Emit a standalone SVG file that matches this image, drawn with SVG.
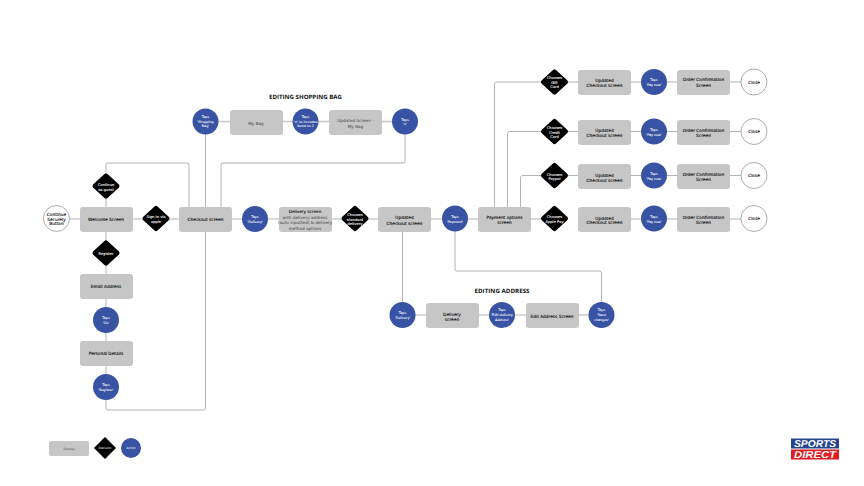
<svg xmlns="http://www.w3.org/2000/svg" width="864" height="486" viewBox="0 0 864 486">
<style>
text{font-family:"DejaVu Sans","Noto Sans",sans-serif;text-anchor:middle;font-weight:400;text-rendering:geometricPrecision}
.r{fill:#c6c6c6}
.s text{fill:#111;font-size:4.3px;stroke:#111;stroke-width:.12}
.g text{fill:#444;font-size:4.2px}
.d path{fill:#000}
.d text{fill:#fff;font-size:3.7px;stroke:#fff;stroke-width:.08}
.a circle{fill:#3953a4}
.a text{fill:#fff;font-size:3.3px;stroke:#fff;stroke-width:.06}
.c circle{fill:#fff;stroke:#8a8a8a;stroke-width:.7}
.c text{fill:#111;font-size:4.3px;stroke:#111;stroke-width:.12}
.l{fill:none;stroke:#b3b3b3;stroke-width:1}
.t{fill:#111;font-size:5.9px;font-weight:700;font-family:"Open Sans","Noto Sans",sans-serif}
</style>
<defs>
<rect id="box" width="53" height="25" rx="3"/>
<path id="dia" d="M-1.500-12 L-13 -1.500 Q-14 0 -13 1.500 L-1.500 12 Q0 13.500 1.500 12 L13 1.500 Q14 0 13 -1.500 L1.500 -12 Q0 -13.500 -1.500 -12Z"/>
</defs>
<rect width="864" height="486" fill="#fff"/>
<g id="connectors" class="l">
<path d="M56 219H555M578 219H754"/>
<path d="M106 172V165Q106 163 108 163H187Q189 163 189 165V207"/>
<path d="M106 186V387"/>
<path d="M205.500 121.500V408Q205.500 410 203.500 410H108Q106 410 106 408V387"/>
<path d="M221 207V165Q221 163 223 163H403Q405 163 405 161V121.500" stroke="#c8c8c8" stroke-width="1.300"/>
<path d="M205.500 121.500H405" stroke="#c8c8c8" stroke-width="1.300"/>
<path d="M402.500 232V315M402.500 315H601.500"/>
<path d="M455 219V269Q455 271 457 271H599.500Q601.500 271 601.500 273V315"/>
<path d="M494.500 207V84Q494.500 82 496.500 82H754"/>
<path d="M507.500 207V133.500Q507.500 131.500 509.500 131.500H754"/>
<path d="M520.500 207V177.500Q520.500 175.500 522.500 175.500H754"/>
</g>
<g id="start" class="c"><circle cx="56.500" cy="218.500" r="13"/><text x="56.500" y="216">Continue</text><text x="56.500" y="220.500">Securely</text><text x="56.500" y="225">Button</text></g>
<g id="welcome" class="s"><use href="#box" class="r" x="80" y="207"/><text x="106" y="221">Welcome Screen</text></g>
<g id="guest" class="d"><use href="#dia" x="106" y="186"/><text x="106" y="186">Continue</text><text x="106" y="190.500">as guest</text></g>
<g id="apple-signin" class="d"><use href="#dia" x="156" y="218.500"/><text x="156" y="218">Sign in via</text><text x="156" y="222.500">apple</text></g>
<g id="register" class="d"><use href="#dia" x="106" y="253"/><text x="106" y="254.500">Register</text></g>
<g id="email" class="s"><use href="#box" class="r" x="80" y="274"/><text x="106" y="288">Email Address</text></g>
<g id="tap-go" class="a"><circle cx="106" cy="320" r="13"/><text x="106" y="319">Taps</text><text x="106" y="324">'Go'</text></g>
<g id="personal" class="s"><use href="#box" class="r" x="80" y="341"/><text x="106" y="355">Personal Details</text></g>
<g id="tap-register" class="a"><circle cx="106" cy="387" r="13"/><text x="106" y="386">Taps</text><text x="106" y="391">'Register'</text></g>
<g id="checkout" class="s"><use href="#box" class="r" x="179" y="207"/><text x="205.500" y="221">Checkout screen</text></g>
<g id="tap-delivery" class="a"><circle cx="255" cy="219" r="13"/><text x="255" y="218">Taps</text><text x="255" y="223">'Delivery'</text></g>
<g id="delivery" class="g"><use href="#box" class="r" x="279" y="207"/><text x="305" y="213" style="fill:#111;stroke:#111;stroke-width:.12px">Delivery screen</text><text x="305" y="219">with delivery address</text><text x="305" y="224">(auto inputted) &amp; delivery</text><text x="305" y="229.500">method options</text></g>
<g id="standard" class="d"><use href="#dia" x="355" y="218.500"/><text x="355" y="216">Chooses</text><text x="355" y="220.500">standard</text><text x="355" y="225">delivery</text></g>
<g id="updated" class="s"><use href="#box" class="r" x="378" y="207"/><text x="404.500" y="219">Updated</text><text x="404.500" y="224.500">Checkout screen</text></g>
<g id="tap-payment" class="a"><circle cx="455" cy="218.500" r="13"/><text x="455" y="218">Taps</text><text x="455" y="222.500">'Payment'</text></g>
<g id="payment" class="s"><use href="#box" class="r" x="478" y="207"/><text x="504.500" y="219">Payment options</text><text x="504.500" y="223.500">screen</text></g>

<text class="t" x="305.500" y="99" textLength="73" lengthAdjust="spacingAndGlyphs">EDITING SHOPPING BAG</text>
<g id="tap-bag" class="a"><circle cx="205.500" cy="121.500" r="13"/><text x="205.500" y="118">Taps</text><text x="205.500" y="122.500">'Shopping</text><text x="205.500" y="127">Bag'</text></g>
<g id="mybag" class="g"><use href="#box" class="r" x="230" y="110"/><text x="256" y="125">My Bag</text></g>
<g id="tap-plus" class="a"><circle cx="305.500" cy="121.500" r="13"/><text x="305.500" y="118">Taps</text><text x="305.500" y="122.500">'+' to increase</text><text x="305.500" y="127">items to 2</text></g>
<g id="updated-bag" class="g"><use href="#box" class="r" x="329" y="110"/><text x="355.500" y="122">Updated Screen -</text><text x="355.500" y="128">My Bag</text></g>
<g id="tap-x" class="a"><circle cx="405" cy="121.500" r="13"/><text x="405" y="120.500">Taps</text><text x="405" y="125">'x'</text></g>

<text class="t" x="502" y="293" textLength="55" lengthAdjust="spacingAndGlyphs">EDITING ADDRESS</text>
<g id="tap-delivery2" class="a"><circle cx="402.500" cy="315" r="13"/><text x="402.500" y="314">Taps</text><text x="402.500" y="318.500">'Delivery'</text></g>
<g id="delivery2" class="s"><use href="#box" class="r" x="426" y="303"/><text x="452" y="316">Delivery</text><text x="452" y="320.500">screen</text></g>
<g id="tap-edit" class="a"><circle cx="502" cy="315" r="13"/><text x="502" y="311">Taps</text><text x="502" y="316">'Edit delivery</text><text x="502" y="320.500">Address'</text></g>
<g id="edit" class="s"><use href="#box" class="r" x="526" y="303"/><text x="552" y="318">Edit Address Screen</text></g>
<g id="tap-save" class="a"><circle cx="601.500" cy="315" r="13"/><text x="601.500" y="311">Taps</text><text x="601.500" y="316">'Save</text><text x="601.500" y="320.500">changes'</text></g>

<g id="gift" class="d"><use href="#dia" x="554.500" y="82"/><text x="554.500" y="79">Chooses</text><text x="554.500" y="83.500">Gift</text><text x="554.500" y="88">Card</text></g>
<g id="upd1" class="s"><use href="#box" class="r" x="578" y="70"/><text x="604.500" y="82">Updated</text><text x="604.500" y="87">Checkout screen</text></g>
<g id="pay1" class="a"><circle cx="654" cy="82" r="13"/><text x="654" y="81">Taps</text><text x="654" y="85.500">'Pay now'</text></g>
<g id="order1" class="s"><use href="#box" class="r" x="677" y="70"/><text x="703.500" y="81">Order Confirmation</text><text x="703.500" y="87">Screen</text></g>
<g id="close1" class="c"><circle cx="754" cy="82" r="13"/><text x="754" y="83.500">Close</text></g>

<g id="credit" class="d"><use href="#dia" x="554.500" y="131.500"/><text x="554.500" y="129">Chooses</text><text x="554.500" y="133.500">Credit</text><text x="554.500" y="138">Card</text></g>
<g id="upd2" class="s"><use href="#box" class="r" x="578" y="120"/><text x="604.500" y="132">Updated</text><text x="604.500" y="136.500">Checkout screen</text></g>
<g id="pay2" class="a"><circle cx="654" cy="131.500" r="13"/><text x="654" y="131">Taps</text><text x="654" y="135.500">'Pay now'</text></g>
<g id="order2" class="s"><use href="#box" class="r" x="677" y="120"/><text x="703.500" y="132">Order Confirmation</text><text x="703.500" y="137">Screen</text></g>
<g id="close2" class="c"><circle cx="754" cy="131.500" r="13"/><text x="754" y="133">Close</text></g>

<g id="paypal" class="d"><use href="#dia" x="554.500" y="175.500"/><text x="554.500" y="175.500">Chooses</text><text x="554.500" y="180">Paypal</text></g>
<g id="upd3" class="s"><use href="#box" class="r" x="578" y="164"/><text x="604.500" y="177">Updated</text><text x="604.500" y="181.500">Checkout screen</text></g>
<g id="pay3" class="a"><circle cx="654" cy="175.500" r="13"/><text x="654" y="175">Taps</text><text x="654" y="179.500">'Pay now'</text></g>
<g id="order3" class="s"><use href="#box" class="r" x="677" y="164"/><text x="703.500" y="176">Order Confirmation</text><text x="703.500" y="181">Screen</text></g>
<g id="close3" class="c"><circle cx="754" cy="175.500" r="13"/><text x="754" y="177">Close</text></g>

<g id="applepay" class="d"><use href="#dia" x="554.500" y="218.500"/><text x="554.500" y="218">Chooses</text><text x="554.500" y="222.500">Apple Pay</text></g>
<g id="upd4" class="s"><use href="#box" class="r" x="578" y="207"/><text x="604.500" y="219.500">Updated</text><text x="604.500" y="224">Checkout screen</text></g>
<g id="pay4" class="a"><circle cx="654" cy="218.500" r="13"/><text x="654" y="218">Taps</text><text x="654" y="222.500">'Pay now'</text></g>
<g id="order4" class="s"><use href="#box" class="r" x="677" y="207"/><text x="703.500" y="219">Order Confirmation</text><text x="703.500" y="224">Screen</text></g>
<g id="close4" class="c"><circle cx="754" cy="218.500" r="13"/><text x="754" y="219.500">Close</text></g>

<g id="legend-display"><rect x="49" y="441" width="40" height="15" rx="2" fill="#c6c6c6"/><text x="69" y="450" style="font-size:3px;fill:#555">Display</text></g>
<g id="legend-decision"><path d="M105 437.500L115.500 448L105 458.500L94.500 448Z" fill="#000" stroke="#000" stroke-linejoin="round"/><text x="105" y="449" style="font-size:3px;fill:#fff">Decision</text></g>
<g id="legend-action"><circle cx="131" cy="448" r="10" fill="#3953a4"/><text x="131" y="449" style="font-size:3px;fill:#fff">Action</text></g>

<g id="logo"><rect x="791" y="438.500" width="48" height="10" fill="#24468f"/><rect x="791" y="449.500" width="48" height="10" fill="#e01b22"/>
<text x="815" y="447.300" textLength="42" lengthAdjust="spacingAndGlyphs" style="font-family:'Liberation Sans',sans-serif;font-size:10px;font-weight:700;font-style:italic;fill:#fff">SPORTS</text>
<text x="815" y="458.300" textLength="42" lengthAdjust="spacingAndGlyphs" style="font-family:'Liberation Sans',sans-serif;font-size:10px;font-weight:700;font-style:italic;fill:#fff">DIRECT</text></g>
</svg>
